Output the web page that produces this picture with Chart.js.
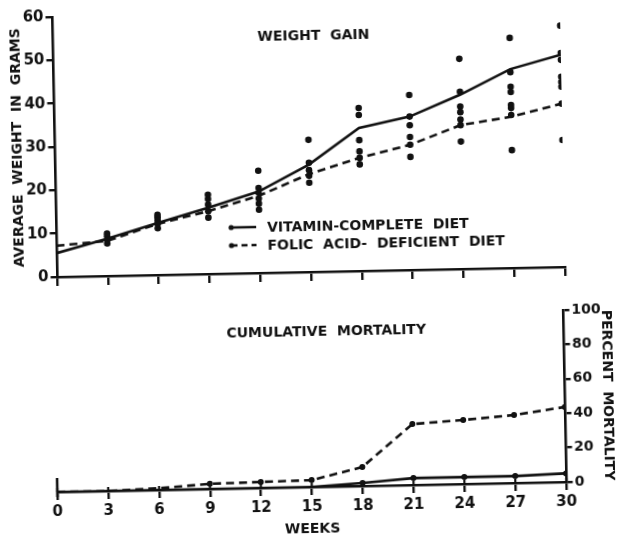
<!DOCTYPE html>
<html><head><meta charset="utf-8">
<script src="https://cdn.jsdelivr.net/npm/chart.js@4.4.0/dist/chart.umd.min.js"></script>
<style>
html,body{margin:0;padding:0;background:#fff;overflow:hidden;}
#wrap{position:absolute;left:0;top:0;width:618px;height:538px;transform:rotate(-1.13deg);transform-origin:309px 269px;}
#c1{position:absolute;left:0;top:0;}
#c2{position:absolute;left:0;top:290px;}
</style></head><body>
<div id="wrap"><canvas id="c1" width="618" height="290"></canvas><canvas id="c2" width="618" height="248"></canvas></div>
<script>
// ---- data ----
const weeks = [0,3,6,9,12,15,18,21,24,27,30];
const weightComplete  = [5.5,8.6,12.0,15.3,18.8,24.8,33.0,35.4,40.2,45.9,49.0];
const weightDeficient = [7.2,8.1,11.8,14.5,17.8,22.6,26.1,28.9,33.2,34.9,37.7];
const dotWeeks = [3,3,3,3, 6,6,6,6,6, 9,9,9,9,9, 12,12,12,12,12,12, 15,15,15,15,15,
  18,18,18,18,18,18, 21,21,21,21,21,21, 24,24,24,24,24,24,24, 27,27,27,27,27,27,27,27, 30,30,30,30,30,30,30,30];
const dotWeights = [7.5,8.3,9.2,9.8, 10.8,11.8,12.6,13.3,13.9, 13.0,14.5,16.0,17.3,18.3,
  14.6,16.0,17.2,18.5,19.6,23.6, 20.6,22.2,23.5,25.2,30.5,
  24.6,26.1,27.6,30.2,36.0,37.6, 26.1,28.9,30.7,33.4,35.4,40.4,
  29.4,33.2,34.5,36.2,37.5,40.9,48.5, 27.2,35.3,36.9,37.6,40.6,41.8,45.2,53.1,
  29.3,37.7,41.6,42.7,43.9,47.8,49.4,55.7];
const mortalityComplete  = [0,0,0,0,0,0,1.7,4,4,4,5];
const mortalityDeficient = [0,0,1,3,3.5,4,11,35.4,37.2,39.5,43.6];
const weekTicks = [0,3,6,9,12,15,18,21,24,27,30];
const weightTicks = [0,10,20,30,40,50,60];
const mortalityTicks = [0,20,40,60,80,100];
const seriesNames = ['VITAMIN-COMPLETE  DIET', 'FOLIC  ACID-  DEFICIENT  DIET'];

// ---- style ----
const INK = '#111';
const FAM = 'DejaVu Sans';
Chart.defaults.font.family = FAM;
Chart.defaults.font.weight = 'bold';
Chart.defaults.color = INK;

const pts = (xs, ys) => xs.map((x, i) => ({x, y: ys[i]}));
const setTicks = arr => scale => { scale.ticks = arr.map(v => ({value: v})); };

const gridCfg = len => ({display: true, drawOnChartArea: false, drawTicks: true, tickLength: len, lineWidth: 2.4, tickWidth: 2.4, tickColor: INK, color: INK});
const borderCfg = {display: true, color: INK, width: 2.6};

// top chart annotations
const topAnnot = {
  id: 'topAnnot',
  afterDatasetsDraw(chart) {
    const {ctx, chartArea: ca} = chart;
    ctx.save();
    ctx.fillStyle = INK; ctx.strokeStyle = INK;
    ctx.font = 'bold 14px ' + FAM;
    ctx.textAlign = 'center'; ctx.textBaseline = 'middle';
    ctx.fillText('WEIGHT  GAIN', ca.left + 261, ca.top + 24);
    const lx = ca.left + 175, rows = [ca.top + 214, ca.top + 232];
    rows.forEach((ry, i) => {
      ctx.beginPath(); ctx.arc(lx, ry, 2.6, 0, Math.PI * 2); ctx.fill();
      ctx.lineWidth = 2.5;
      ctx.setLineDash(i === 0 ? [] : [6, 4]);
      ctx.beginPath(); ctx.moveTo(lx, ry); ctx.lineTo(lx + 25, ry); ctx.stroke();
      ctx.setLineDash([]);
      ctx.textAlign = 'left';
      ctx.fillText(seriesNames[i], lx + 36, ry + 1);
    });
    ctx.restore();
  }
};

new Chart(document.getElementById('c1'), {
  type: 'line',
  data: {
    datasets: [
      {label: seriesNames[0], data: pts(weeks, weightComplete), borderColor: INK, borderWidth: 2.6, pointRadius: 0, tension: 0},
      {label: seriesNames[1], data: pts(weeks, weightDeficient), borderColor: INK, borderWidth: 2.6, borderDash: [8, 5], pointRadius: 0, tension: 0},
      {label: 'individual', data: pts(dotWeeks, dotWeights), showLine: false, pointRadius: 3.3, pointBackgroundColor: INK, pointBorderWidth: 0, borderColor: INK}
    ]
  },
  options: {
    responsive: false, animation: false, devicePixelRatio: 1,
    layout: {padding: {left: 0, right: 53, top: 12, bottom: 0}},
    plugins: {legend: {display: false}, tooltip: {enabled: false}},
    scales: {
      x: {type: 'linear', min: 0, max: 30, afterBuildTicks: setTicks(weekTicks),
          afterFit: s => { s.height = 18; },
          grid: gridCfg(9), border: borderCfg,
          ticks: {color: 'rgba(0,0,0,0)', font: {size: 12}}},
      y: {type: 'linear', min: 0, max: 60, afterBuildTicks: setTicks(weightTicks),
          afterFit: s => { s.width = 57; },
          grid: gridCfg(6.5), border: borderCfg,
          ticks: {padding: 2, font: {size: 15, weight: 'bold'}, color: INK},
          title: {display: true, text: 'AVERAGE  WEIGHT  IN  GRAMS', font: {size: 14, weight: 'bold'}, color: INK, padding: {top: 12, bottom: 0}}}
    }
  },
  plugins: [topAnnot]
});

const botAnnot = {
  id: 'botAnnot',
  afterDatasetsDraw(chart) {
    const {ctx, chartArea: ca, scales} = chart;
    ctx.save();
    ctx.fillStyle = INK; ctx.strokeStyle = INK;
    ctx.font = 'bold 14px ' + FAM;
    ctx.textAlign = 'center'; ctx.textBaseline = 'middle';
    ctx.fillText('CUMULATIVE  MORTALITY', ca.left + 272, ca.top + 17);
    ctx.lineWidth = 2.6;
    ctx.beginPath(); ctx.moveTo(ca.left, ca.bottom - 14); ctx.lineTo(ca.left, ca.bottom + 5); ctx.stroke();
    // tick marks also cross slightly above the week axis
    ctx.lineWidth = 2.2;
    scales.x.ticks.forEach(t => {
      const px = scales.x.getPixelForValue(t.value);
      ctx.beginPath(); ctx.moveTo(px, ca.bottom - 4); ctx.lineTo(px, ca.bottom); ctx.stroke();
    });
    ctx.restore();
  }
};

const markR = c => (c.raw && c.raw.y > 1.5 ? 3 : 0);

new Chart(document.getElementById('c2'), {
  type: 'line',
  data: {
    datasets: [
      {label: seriesNames[0], data: pts(weeks, mortalityComplete), borderColor: INK, borderWidth: 2.6, pointRadius: markR, pointBackgroundColor: INK, pointBorderWidth: 0, tension: 0},
      {label: seriesNames[1], data: pts(weeks, mortalityDeficient), borderColor: INK, borderWidth: 2.6, borderDash: [8, 5], pointRadius: markR, pointBackgroundColor: INK, pointBorderWidth: 0, tension: 0}
    ]
  },
  options: {
    responsive: false, animation: false, devicePixelRatio: 1,
    layout: {padding: {left: 53, right: 0, top: 25, bottom: 0}},
    plugins: {legend: {display: false}, tooltip: {enabled: false}},
    scales: {
      x: {type: 'linear', min: 0, max: 30, afterBuildTicks: setTicks(weekTicks),
          afterFit: s => { s.height = 51; },
          grid: gridCfg(8), border: borderCfg,
          ticks: {padding: 3, font: {size: 15, weight: 'bold'}, color: INK, maxRotation: 0},
          title: {display: true, text: 'WEEKS', font: {size: 14, weight: 'bold'}, color: INK, padding: {top: 0, bottom: 0}}},
      y: {type: 'linear', position: 'right', min: 0, max: 100, afterBuildTicks: setTicks(mortalityTicks),
          afterFit: s => { s.width = 56; },
          grid: gridCfg(6.5), border: borderCfg,
          ticks: {padding: 2, font: {size: 14, weight: 'bold'}, color: INK},
          title: {display: true, text: 'PERCENT  MORTALITY', font: {size: 14, weight: 'bold'}, color: INK, padding: {top: 5, bottom: 0}}}
    }
  },
  plugins: [botAnnot]
});
</script>
</body></html>
